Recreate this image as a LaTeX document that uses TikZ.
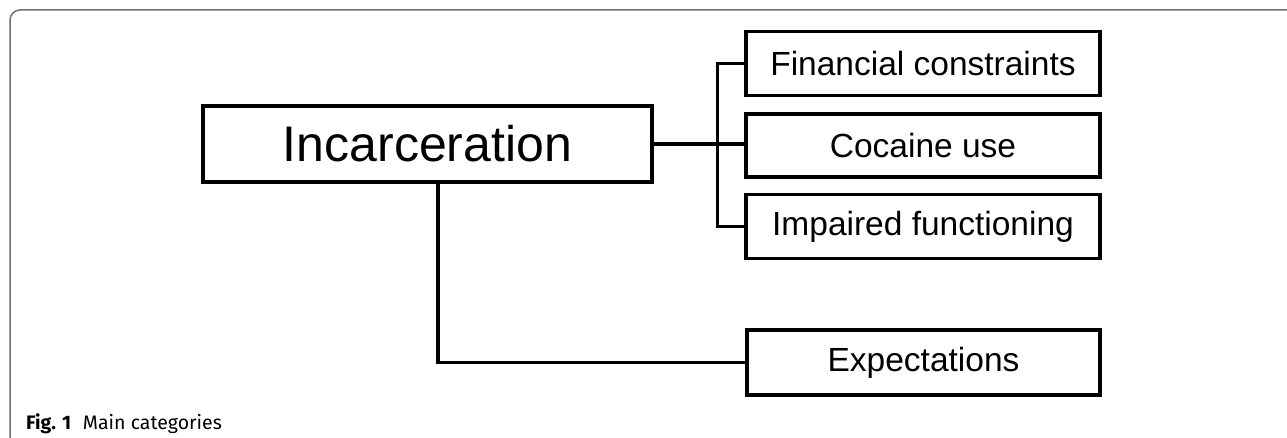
\documentclass[tikz,border=0pt]{standalone}
\usepackage{fontspec}
\setmainfont{Liberation Sans}
\newfontfamily\capfont{Fira Sans}
\definecolor{framegray}{HTML}{707070}
\begin{document}
\begin{tikzpicture}[x=1pt,y=-1pt,
  catbox/.style={draw=black, line width=3.5pt, inner sep=0pt, minimum width=354pt, minimum height=64pt, font=\fontsize{33.5}{40}\selectfont},
  mainbox/.style={draw=black, line width=3.5pt, inner sep=0pt, minimum width=449pt, minimum height=76pt, font=\fontsize{50}{60}\selectfont},
  link/.style={draw=black, line width=3.5pt}]
\useasboundingbox (0,0) rectangle (1287,438);
\draw[framegray, line width=1.5pt, rounded corners=10pt] (10,440) |- (1290,10);
\node[mainbox] (inc) at (427.5,144) {Incarceration};
\node[catbox] (fin) at (923,63.5) {Financial constraints};
\node[catbox, minimum height=63pt] (coc) at (923,145.5) {Cocaine use};
\node[catbox] (imp) at (923,226.5) {Impaired functioning};
\node[catbox, minimum width=353pt, minimum height=65pt] (exp) at (923.5,362.5) {Expectations};
\node[anchor=base west, inner sep=0pt, font=\capfont\fontsize{19.5}{23}\selectfont] (cap) at (26,429) {\textbf{Fig. 1}\hspace{0.6em}Main categories};
\draw[link] (inc.east) -- (inc.east -| coc.west);
\draw[link] (fin.west) -- ++(-27,0) |- (imp.west);
\draw[link] ([xshift=10.5pt]inc.south) |- (exp.west);
\end{tikzpicture}
\end{document}
